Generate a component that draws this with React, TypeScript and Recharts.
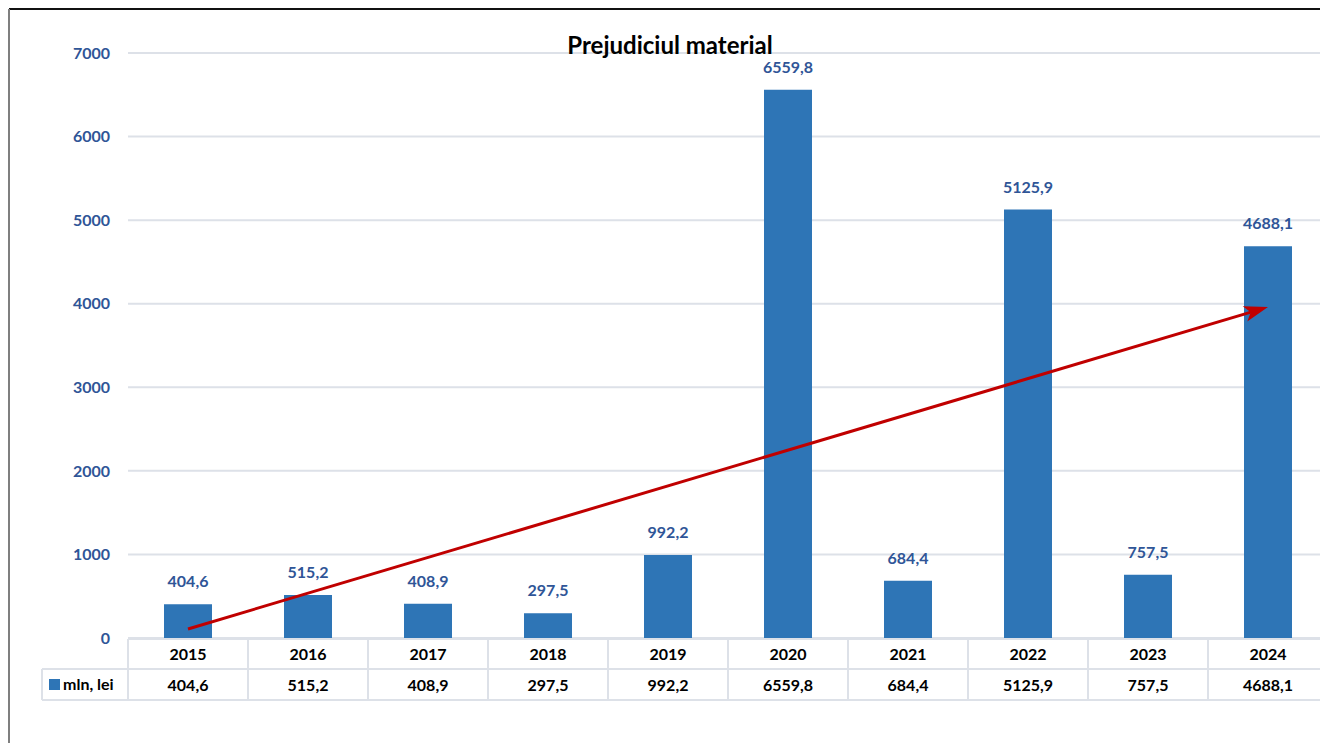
import { BarChart, Bar, XAxis, YAxis, CartesianGrid, LabelList, ReferenceLine } from 'recharts';

const years = ['2015', '2016', '2017', '2018', '2019', '2020', '2021', '2022', '2023', '2024'];
const values = [404.6, 515.2, 408.9, 297.5, 992.2, 6559.8, 684.4, 5125.9, 757.5, 4688.1];
const yTicks = [0, 1000, 2000, 3000, 4000, 5000, 6000, 7000];
const trendStart = 108;
const trendEnd = 3960;
const seriesName = 'mln, lei';

const BAR = '#2E75B6';
const LABEL = '#2F5597';
const GRID = '#DDE1E8';
const FONT = 'Lato, "Open Sans", sans-serif';

const fmt = (v: number) => v.toFixed(1).replace('.', ',');

const rows = years.map((year, i) => ({ year, value: values[i] }));

function TableTick(props: any) {
  const { x, y, payload, index } = props;
  const half = payload?.offset || 60;
  const left = x - half;
  const right = x + half;
  const rowH = 31;
  return (
    <g>
      <line x1={left} y1={y + 1} x2={right} y2={y + 1} stroke={GRID} strokeWidth={2} />
      <line x1={left} y1={y + rowH} x2={right} y2={y + rowH} stroke={GRID} strokeWidth={2} />
      <line x1={left} y1={y + rowH * 2} x2={right} y2={y + rowH * 2} stroke={GRID} strokeWidth={2} />
      <line x1={left} y1={y + 1} x2={left} y2={y + rowH * 2} stroke={GRID} strokeWidth={2} />
      <line x1={right} y1={y + 1} x2={right} y2={y + rowH * 2} stroke={GRID} strokeWidth={2} />
      <text x={x} y={y + 22} textAnchor="middle" fontSize={16} fontWeight={700} fill="#000" fontFamily={FONT}>
        {payload.value}
      </text>
      <text x={x} y={y + rowH + 22} textAnchor="middle" fontSize={16} fontWeight={700} fill="#000" fontFamily={FONT}>
        {fmt(values[index])}
      </text>
      {index === 0 && (
        <g>
          <line x1={left - 86} y1={y + rowH} x2={left} y2={y + rowH} stroke={GRID} strokeWidth={2} />
          <line x1={left - 86} y1={y + rowH * 2} x2={left} y2={y + rowH * 2} stroke={GRID} strokeWidth={2} />
          <line x1={left - 86} y1={y + rowH} x2={left - 86} y2={y + rowH * 2} stroke={GRID} strokeWidth={2} />
          <rect x={left - 79} y={y + rowH + 10} width={11} height={11} fill={BAR} />
          <text x={left - 65} y={y + rowH + 21} fontSize={16} fontWeight={700} fill="#000" fontFamily={FONT}>
            {seriesName}
          </text>
        </g>
      )}
    </g>
  );
}

function Arrow(props: any) {
  const { x1, y1, x2, y2 } = props;
  if ([x1, y1, x2, y2].some((v) => typeof v !== 'number')) return null;
  const dx = x2 - x1;
  const dy = y2 - y1;
  const len = Math.sqrt(dx * dx + dy * dy);
  const ux = dx / len;
  const uy = dy / len;
  const headL = 24;
  const headW = 8;
  const bx = x2 - ux * headL;
  const by = y2 - uy * headL;
  const pts = [
    [x2, y2],
    [bx - uy * headW, by + ux * headW],
    [bx + ux * 6, by + uy * 6],
    [bx + uy * headW, by - ux * headW],
  ]
    .map((p) => p.join(','))
    .join(' ');
  return (
    <g>
      <line x1={x1} y1={y1} x2={bx + ux * 8} y2={by + uy * 8} stroke="#C00000" strokeWidth={3} />
      <polygon points={pts} fill="#C00000" />
    </g>
  );
}

export default function App() {
  return (
    <div style={{ position: 'fixed', left: 0, top: 0, width: 1320, height: 743, overflow: 'hidden', background: '#fff' }}>
      <div style={{ position: 'absolute', left: 9, top: 8, width: 1311, height: 2, background: '#111' }} />
      <div style={{ position: 'absolute', left: 8, top: 9, width: 2, height: 734, background: '#7f7f7f' }} />
      <div
        style={{
          position: 'absolute',
          left: 0,
          width: 1340,
          top: 30,
          textAlign: 'center',
          fontFamily: FONT,
          fontWeight: 700,
          fontSize: 24,
          color: '#000',
          zIndex: 2,
        }}
      >
        Prejudiciul material
      </div>
      <div style={{ position: 'absolute', left: 0, top: 0 }}>
        <BarChart
          width={1340}
          height={743}
          data={rows}
          margin={{ top: 53, right: 12, bottom: 43, left: 28 }}
          barCategoryGap="20%"
        >
          <CartesianGrid vertical={false} stroke={GRID} strokeWidth={2} />
          <XAxis
            dataKey="year"
            axisLine={false}
            tickLine={false}
            tickSize={0}
            tickMargin={0}
            height={62}
            interval={0}
            tick={<TableTick />}
          />
          <YAxis
            domain={[0, 7000]}
            ticks={yTicks}
            width={100}
            axisLine={false}
            tickLine={false}
            tickSize={0}
            tickMargin={18}
            tick={{ fill: LABEL, fontSize: 16, fontWeight: 700, fontFamily: FONT }}
          />
          <Bar dataKey="value" fill={BAR} maxBarSize={48} isAnimationActive={false}>
            <LabelList
              dataKey="value"
              position="top"
              offset={17}
              formatter={(v: any) => fmt(Number(v))}
              style={{ fill: LABEL, fontSize: 16, fontWeight: 700, fontFamily: FONT }}
            />
          </Bar>
          <ReferenceLine
            segment={[
              { x: years[0], y: trendStart },
              { x: years[years.length - 1], y: trendEnd },
            ]}
            stroke="#C00000"
            ifOverflow="visible"
            shape={<Arrow />}
          />
        </BarChart>
      </div>
    </div>
  );
}
